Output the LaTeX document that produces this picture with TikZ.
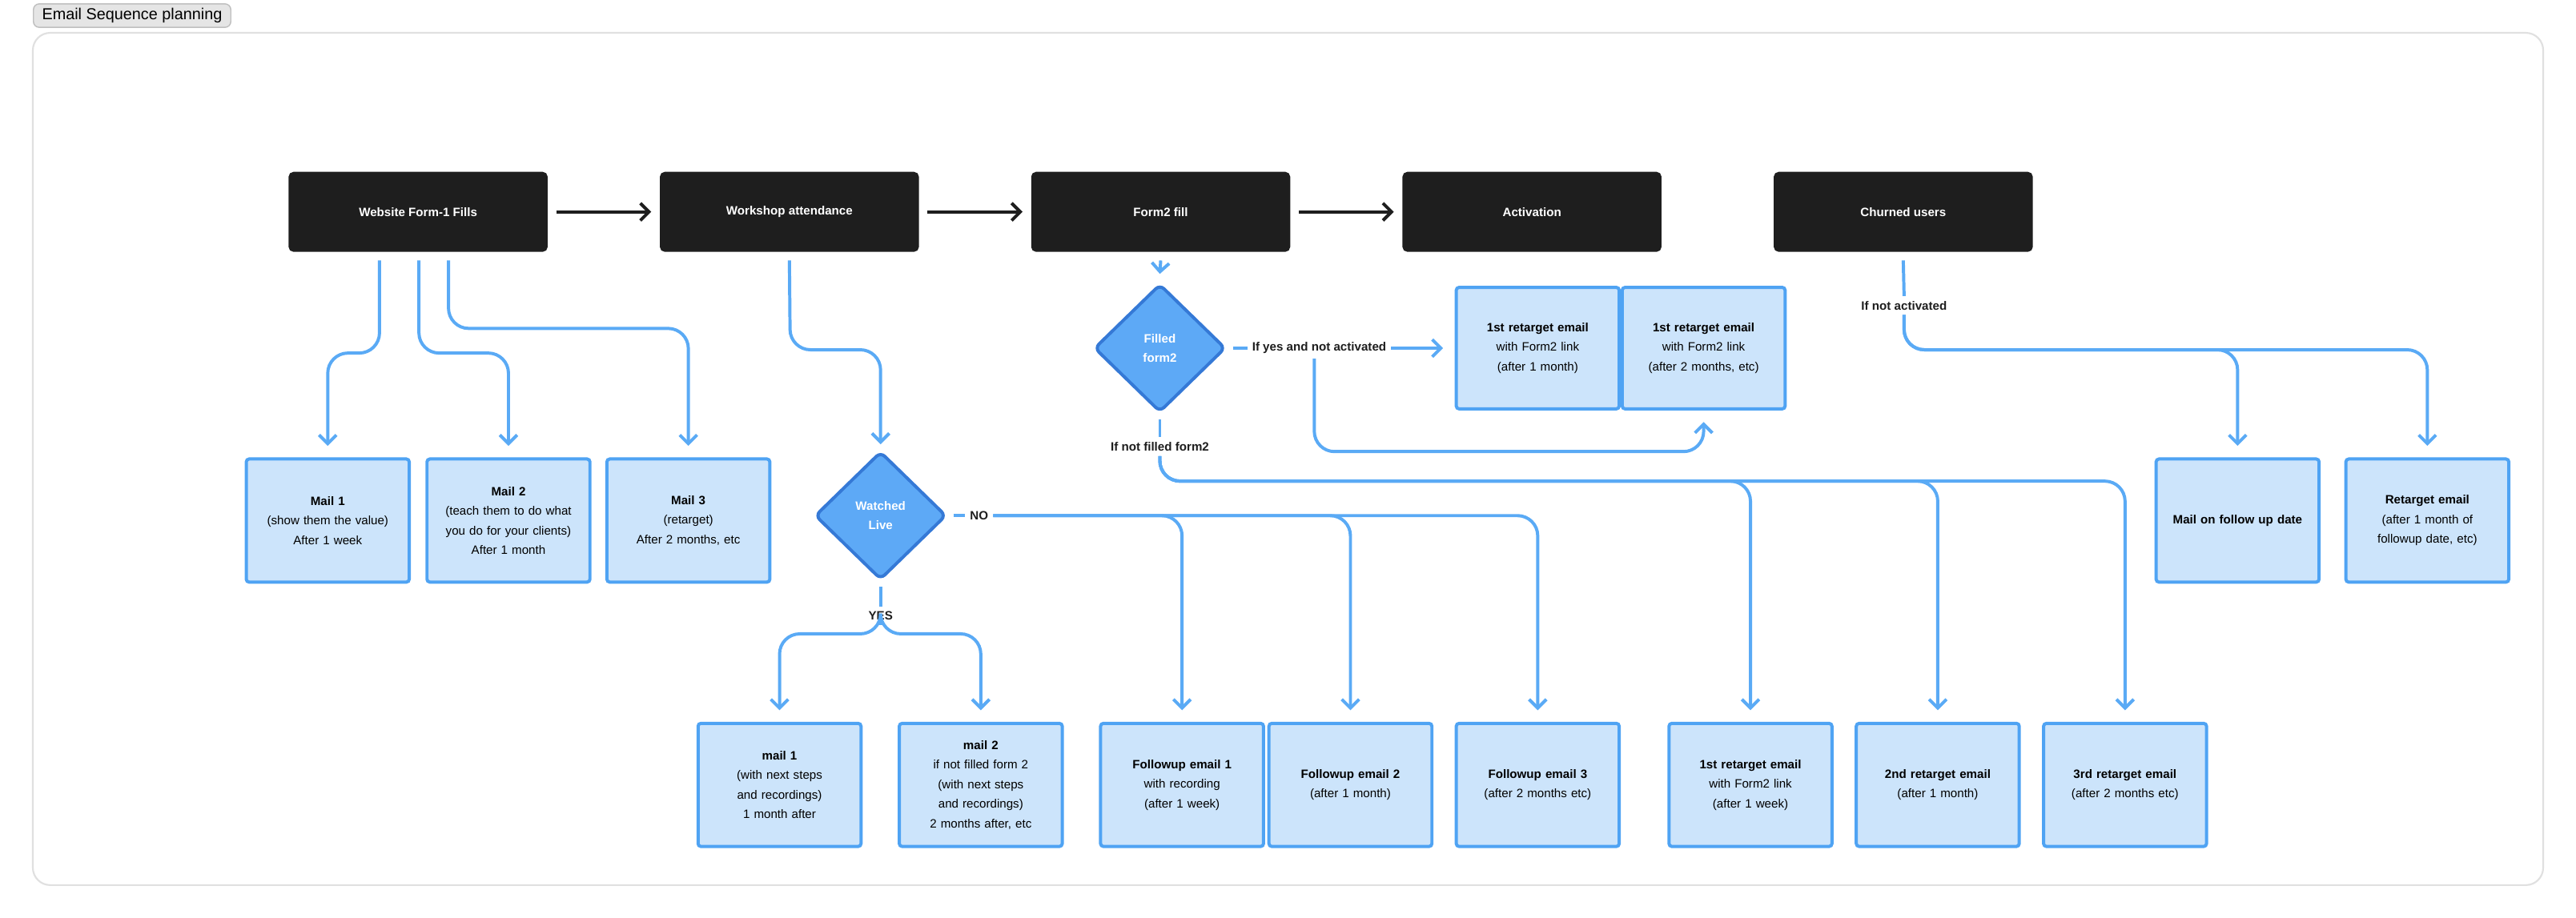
\documentclass[tikz,border=0pt]{standalone}
\usepackage{fontspec}
\setmainfont{Liberation Sans}
\usetikzlibrary{arrows.meta,shapes.geometric,positioning,calc}
\definecolor{ink}{HTML}{1E1E1E}
\definecolor{mailfill}{HTML}{CCE4FB}
\definecolor{mailline}{HTML}{4FA3F3}
\definecolor{flowblue}{HTML}{5AAAF5}
\definecolor{decfill}{HTML}{5DA9F6}
\definecolor{decline}{HTML}{3579D6}
\tikzset{
  stage/.style={fill=ink, draw=ink, rounded corners=1.5pt, minimum width=3.14cm, minimum height=0.96cm, text=white, font=\fontsize{4.2}{6.8}\selectfont\bfseries},
  mail/.style={fill=mailfill, draw=mailline, line width=1.1pt, rounded corners=1pt, minimum width=1.87cm, minimum height=1.5cm, text width=1.75cm, align=center, font=\fontsize{4.2}{6.8}\selectfont},
  check/.style={diamond, fill=decfill, draw=decline, line width=1.1pt, rounded corners=2pt, minimum width=1.6cm, minimum height=1.56cm, inner sep=0pt, align=center, text=white, font=\fontsize{4.2}{6.8}\selectfont\bfseries},
  flow/.style={draw=flowblue, line width=1.1pt, rounded corners=7pt, ->},
  stagearrow/.style={draw=ink, line width=1.1pt, ->},
  tag/.style={fill=white, inner sep=1.5pt, font=\fontsize{4.2}{6.8}\selectfont\bfseries, text=ink},
}
\begin{document}
\begin{tikzpicture}[x=0.02cm, y=-0.02cm, >={Straight Barb[length=3pt,width=6pt]}]
\useasboundingbox (0,0) rectangle (1568,559);

% frame
\draw[draw=black!12, line width=0.6pt, rounded corners=6pt] (20,20) rectangle (1548,539);
\node[draw=black!25, fill=black!10, rounded corners=2pt, inner xsep=3pt, inner ysep=1.5pt, anchor=west, font=\fontsize{5.5}{6}\selectfont] (title) at (20,9.5) {Email Sequence planning};

% top row
\node[stage] (web) at (254.5,129) {Website Form-1 Fills};
\node[stage] (work) at (480.5,129) {Workshop attendance};
\node[stage] (form) at (706.5,129) {Form2 fill};
\node[stage] (act) at (932.5,129) {Activation};
\node[stage] (churn) at (1158.5,129) {Churned users};

\foreach \a/\b in {web/work, work/form, form/act}
  \draw[stagearrow] ([xshift=3pt]\a.east) -- ([xshift=-3pt]\b.west);

% website mails
\node[mail] (m1) at (199.5,317) {\textbf{Mail 1}\\(show them the value)\\After 1 week};
\node[mail] (m2) at (309.5,317) {\textbf{Mail 2}\\(teach them to do what you do for your clients)\\After 1 month};
\node[mail] (m3) at (419,317) {\textbf{Mail 3}\\(retarget)\\After 2 months, etc};

\draw[flow] ([yshift=-3pt]web.south -| 231,0) -- (231,215) -| ([yshift=4pt]m1.north);
\draw[flow] ([yshift=-3pt]web.south -| 255,0) -- (255,215) -| ([yshift=4pt]m2.north);
\draw[flow] ([yshift=-3pt]web.south -| 273,0) -- (273,200) -| ([yshift=4pt]m3.north);

% workshop
\node[check] (live) at (536,314) {Watched\\Live};
\draw[flow] ([yshift=-3pt]work.south) -- (481,213) -| ([yshift=2pt]live.north);

\node[mail] (y1) at (474.5,478) {\textbf{mail 1}\\(with next steps and recordings)\\1 month after};
\node[mail] (y2) at (597,478) {\textbf{mail 2}\\if not filled form 2 (with next steps and recordings)\\2 months after, etc};
\node[tag] (yes) at (536,375) {YES};
\draw[draw=flowblue, line width=1.1pt] ([yshift=-2pt]live.south) -- (yes.north);
\draw[flow] (yes.south) -- (536,386) -| ([yshift=4pt]y1.north);
\draw[flow] (yes.south) -- (536,386) -| ([yshift=4pt]y2.north);

\node[mail] (n1) at (719.5,478) {\textbf{Followup email 1}\\with recording\\(after 1 week)};
\node[mail] (n2) at (822,478) {\textbf{Followup email 2}\\(after 1 month)};
\node[mail] (n3) at (936,478) {\textbf{Followup email 3}\\(after 2 months etc)};
\node[tag] (no) at (596,314) {NO};
\draw[draw=flowblue, line width=1.1pt] ([xshift=2pt]live.east) -- (no.west);
\foreach \n in {n1,n2,n3}
  \draw[flow] (no.east) -| ([yshift=4pt]\n.north);

% form2
\node[check] (filled) at (706,212) {Filled\\form2};
\draw[flow] ([yshift=-3pt]form.south) -- ([yshift=3pt]filled.north);

\node[mail, minimum height=1.48cm] (r1) at (936,212) {\textbf{1st retarget email}\\with Form2 link\\(after 1 month)};
\node[mail, minimum height=1.48cm] (r2) at (1037,212) {\textbf{1st retarget email}\\with Form2 link\\(after 2 months, etc)};
\node[tag] (ifyes) at (803,212) {If yes and not activated};
\draw[draw=flowblue, line width=1.1pt] ([xshift=2pt]filled.east) -- (ifyes.west);
\draw[flow] (ifyes.east) -- ([xshift=-4pt]r1.west);
\draw[flow] (ifyes.south -| 800,0) -- (800,275) -| ([yshift=-4pt]r2.south);

\node[mail] (f1) at (1065.5,478) {\textbf{1st retarget email}\\with Form2 link\\(after 1 week)};
\node[mail] (f2) at (1179.5,478) {\textbf{2nd retarget email}\\(after 1 month)};
\node[mail] (f3) at (1293.5,478) {\textbf{3rd retarget email}\\(after 2 months etc)};
\node[tag] (notfilled) at (706,272) {If not filled form2};
\draw[draw=flowblue, line width=1.1pt] ([yshift=-2pt]filled.south) -- (notfilled.north);
\foreach \n in {f1,f2,f3}
  \draw[flow] (notfilled.south) -- (706,293) -| ([yshift=4pt]\n.north);

% churned
\node[mail] (c1) at (1362,317) {\textbf{Mail on follow up date}};
\node[mail] (c2) at (1477.5,317) {\textbf{Retarget email}\\(after 1 month of followup date, etc)};
\node[tag] (notact) at (1159,186) {If not activated};
\draw[draw=flowblue, line width=1.1pt] ([yshift=-3pt]churn.south) -- (notact.north);
\foreach \n in {c1,c2}
  \draw[flow] (notact.south) -- (1159,213) -| ([yshift=4pt]\n.north);
\end{tikzpicture}
\end{document}
